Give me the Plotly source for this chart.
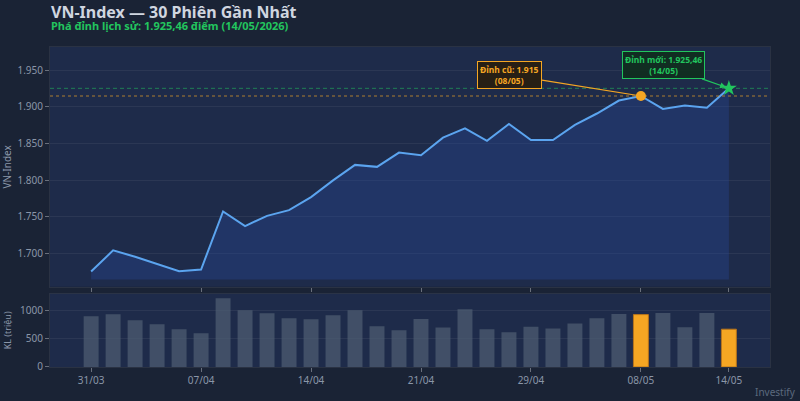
import plotly.graph_objects as go
from plotly.subplots import make_subplots

dates = ["31/03", "01/04", "02/04", "03/04", "06/04", "07/04", "08/04", "09/04", "10/04", "13/04",
         "14/04", "15/04", "16/04", "17/04", "20/04", "21/04", "22/04", "23/04", "24/04", "28/04",
         "29/04", "04/05", "05/05", "06/05", "07/05", "08/05", "11/05", "12/05", "13/05", "14/05"]
close = [1674.8, 1703.7, 1695.0, 1685.4, 1675.3, 1677.6, 1757.0, 1737.0, 1751.0, 1758.8,
         1776.6, 1799.5, 1820.7, 1818.0, 1837.6, 1834.0, 1858.0, 1870.6, 1853.7, 1876.7,
         1854.7, 1854.7, 1875.3, 1891.0, 1908.7, 1915.0, 1897.3, 1901.9, 1899.0, 1925.46]
volume = [901, 936, 830, 760, 671, 600, 1219, 1007, 954, 866,
          848, 919, 1007, 724, 654, 854, 700, 1025, 671, 618,
          713, 684, 772, 866, 942, 930, 960, 707, 960, 671]
tick_labels = ["31/03", "07/04", "14/04", "21/04", "29/04", "08/05", "14/05"]
old_peak_idx = 25
new_peak_idx = 29
old_peak = 1915.0
new_peak = 1925.46
fill_base = 1664.0

x = list(range(len(dates)))
tickvals = [dates.index(t) for t in tick_labels]

BG = "#1a2335"
PLOT_BG = "#1e2b4a"
GRID = "rgba(255,255,255,0.06)"
TXT = "#8a96a8"
ORANGE = "#f5a623"
GREEN = "#22c55e"
BLUE = "#5ba4ef"

fig = make_subplots(rows=2, cols=1, shared_xaxes=False, vertical_spacing=0.022,
                    row_heights=[0.766, 0.234])

fig.add_trace(go.Scatter(x=x, y=[fill_base] * len(x), mode="lines",
                         line=dict(width=0), hoverinfo="skip", showlegend=False), row=1, col=1)
fig.add_trace(go.Scatter(x=x, y=close, mode="lines", line=dict(color=BLUE, width=2),
                         fill="tonexty", fillcolor="rgba(40,70,150,0.38)",
                         showlegend=False), row=1, col=1)
fig.add_trace(go.Scatter(x=[old_peak_idx], y=[close[old_peak_idx]], mode="markers",
                         marker=dict(color=ORANGE, size=10), showlegend=False), row=1, col=1)
fig.add_trace(go.Scatter(x=[new_peak_idx], y=[close[new_peak_idx]], mode="markers",
                         marker=dict(color=GREEN, size=12, symbol="star"), showlegend=False), row=1, col=1)

bar_colors = [ORANGE if i in (old_peak_idx, new_peak_idx) else "rgba(80,95,115,0.7)" for i in x]
bar_line = ["#b8741a" if i in (old_peak_idx, new_peak_idx) else "rgba(0,0,0,0)" for i in x]
fig.add_trace(go.Bar(x=x, y=volume, marker=dict(color=bar_colors, line=dict(color=bar_line, width=1)),
                     width=0.68, showlegend=False), row=2, col=1)

fig.add_hline(y=new_peak, line=dict(color="rgba(34,197,94,0.55)", width=1, dash="4px,3px"), row=1, col=1)
fig.add_hline(y=old_peak, line=dict(color="rgba(245,166,35,0.45)", width=1.5, dash="dot"), row=1, col=1)

fig.add_annotation(x=old_peak_idx, y=close[old_peak_idx], xref="x", yref="y",
                   text="<b>Đỉnh cũ: 1.915<br>(08/05)</b>", showarrow=True, arrowhead=0,
                   arrowcolor=ORANGE, arrowwidth=1.2, ax=-131, ay=-21,
                   font=dict(color=ORANGE, size=8.5, family="Noto Sans"),
                   bgcolor="rgba(40,30,15,0.9)", bordercolor=ORANGE, borderwidth=1, borderpad=2)
fig.add_annotation(x=new_peak_idx, y=close[new_peak_idx], xref="x", yref="y",
                   text="<b>Đỉnh mới: 1.925,46<br>(14/05)</b>", showarrow=True, arrowhead=2,
                   arrowcolor=GREEN, arrowwidth=1.2, arrowsize=1, ax=-65, ay=-23, standoff=3,
                   font=dict(color=GREEN, size=8.5, family="Noto Sans"),
                   bgcolor="rgba(15,45,30,0.9)", bordercolor=GREEN, borderwidth=1, borderpad=2)

fig.add_annotation(x=1, y=0, xref="paper", yref="paper", xanchor="right", yanchor="top",
                   xshift=28, yshift=-16, text="Investify", showarrow=False,
                   font=dict(color="#5c6a7e", size=10, family="Noto Sans"))

fig.add_annotation(x=0, y=1, xref="paper", yref="paper", xanchor="left", yanchor="middle",
                   yshift=35.5, text="<b>VN-Index — 30 Phiên Gần Nhất</b>", showarrow=False,
                   borderpad=0, font=dict(size=16, color="#d0d6e0", family="Noto Sans"))
fig.add_annotation(x=0, y=1, xref="paper", yref="paper", xanchor="left", yanchor="middle",
                   yshift=21.5, text="<b>Phá đỉnh lịch sử: 1.925,46 điểm (14/05/2026)</b>", showarrow=False,
                   borderpad=0, font=dict(size=11, color=GREEN, family="Noto Sans"))

xrange = [-1.87, 30.87]
axis_common = dict(gridcolor=GRID, zeroline=False, showline=True, mirror=True, automargin=False,
                   linecolor="rgba(255,255,255,0.07)", tickfont=dict(color=TXT, size=10),
                   ticks="outside", tickcolor="rgba(255,255,255,0.35)", ticklen=4)
fig.update_xaxes(**axis_common, range=xrange, tickmode="array", tickvals=tickvals,
                 ticktext=tick_labels, showgrid=False)
fig.update_xaxes(showticklabels=False, row=1, col=1)
fig.update_yaxes(**axis_common)
fig.update_yaxes(range=[1654, 1982], tickvals=[1700, 1750, 1800, 1850, 1900, 1950],
                 ticktext=["1.700", "1.750", "1.800", "1.850", "1.900", "1.950"],
                 title=dict(text="VN-Index", font=dict(color=TXT, size=10), standoff=8),
                 row=1, col=1)
fig.update_yaxes(range=[0, 1300], tickvals=[0, 500, 1000],
                 title=dict(text="KL (triệu)", font=dict(color=TXT, size=9), standoff=6),
                 row=2, col=1)

fig.update_layout(
    width=800, height=401,
    paper_bgcolor=BG, plot_bgcolor=PLOT_BG,
    margin=dict(l=50, r=30, t=47, b=34),
    font=dict(family="Noto Sans", color=TXT),
    bargap=0.3,
)

fig.write_html("out.html")
